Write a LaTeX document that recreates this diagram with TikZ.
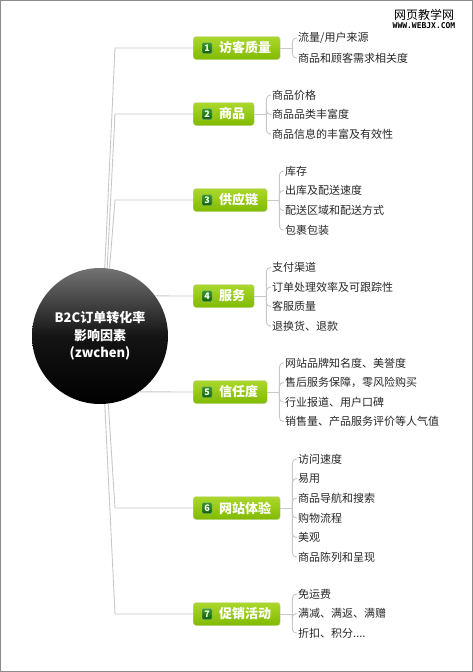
\documentclass[tikz,border=0pt]{standalone}
\usepackage{fontspec}
\setmainfont{Noto Sans CJK SC}
\newfontfamily\wmfont{DejaVu Sans Mono}
\usepackage{tikz}
\usetikzlibrary{positioning}

\definecolor{limetop}{RGB}{172,216,44}
\definecolor{limebot}{RGB}{128,186,0}
\definecolor{limeline}{RGB}{196,214,168}
\definecolor{badgetop}{RGB}{56,152,40}
\definecolor{badgebot}{RGB}{14,98,14}
\definecolor{linkgray}{RGB}{200,200,200}
\definecolor{leafink}{RGB}{40,40,40}

\begin{document}
\begin{tikzpicture}[
    x=1pt, y=-1pt,
    hub/.style={circle, minimum size=136pt, inner sep=0pt, top color=black!55, bottom color=black, middle color=black!92, text=white, align=center, font=\fontsize{13pt}{17.5pt}\selectfont\bfseries},
    topic/.style={anchor=west, rounded corners=3pt, draw=limeline, top color=limetop, bottom color=limebot, text=white, minimum height=23pt, inner xsep=9pt, inner ysep=0pt, font=\fontsize{13pt}{15pt}\selectfont\bfseries},
    badge/.style={rounded corners=1pt, draw=badgebot!40, top color=badgetop, bottom color=badgebot, text=white, minimum width=10pt, minimum height=11pt, inner sep=0pt, font=\fontsize{9pt}{9pt}\selectfont\bfseries},
    leaf/.style={anchor=west, inner sep=1pt, text=leafink, font=\fontsize{11pt}{13pt}\selectfont},
    link/.style={draw=linkgray, line width=0.9pt},
    twig/.style={link, rounded corners=4pt}
]
\fill[white] (0,0) rectangle (473,672);
\useasboundingbox (0,0) rectangle (473,672);
\draw[gray!90, line width=1.2pt] (0.6,0.6) rectangle (472.4,671.4);

\node[font=\fontsize{12pt}{12pt}\selectfont, inner sep=1pt] (wm) at (424,15) {网页教学网};
\node[font=\wmfont\bfseries\fontsize{8pt}{8pt}\selectfont, inner sep=1pt, below=0pt of wm] (wmurl) {WWW.WEBJX.COM};

\node[hub] (hub) at (100,336) {B2C订单转化率\\影响因素\\(zwchen)};

\node[topic] (t1) at (193,48) {\hspace*{17pt}访客质量};
\node[topic] (t2) at (193,114) {\hspace*{17pt}商品};
\node[topic] (t3) at (193,200) {\hspace*{17pt}供应链};
\node[topic] (t4) at (193,296) {\hspace*{17pt}服务};
\node[topic] (t5) at (193,392) {\hspace*{17pt}信任度};
\node[topic] (t6) at (193,508) {\hspace*{17pt}网站体验};
\node[topic] (t7) at (193,614) {\hspace*{17pt}促销活动};

\node[badge] (n1) at ([xshift=14pt]t1.west) {1};
\node[badge] (n2) at ([xshift=14pt]t2.west) {2};
\node[badge] (n3) at ([xshift=14pt]t3.west) {3};
\node[badge] (n4) at ([xshift=14pt]t4.west) {4};
\node[badge] (n5) at ([xshift=14pt]t5.west) {5};
\node[badge] (n6) at ([xshift=14pt]t6.west) {6};
\node[badge] (n7) at ([xshift=14pt]t7.west) {7};

\coordinate (hb) at (115,336);
\draw[link] (hub.86) -- (hb |- t1.west) -- (t1.west);
\draw[link] (hub.84) -- (hb |- t2.west) -- (t2.west);
\draw[link] (hub.82) -- (hb |- t3.west) -- (t3.west);
\draw[link] (hub.36) -- (t4.west);
\draw[link] (hub.-55) -- (t5.west);
\draw[link] (hub.-83) -- (hb |- t6.west) -- (t6.west);
\draw[link] (hub.-86) -- (hb |- t7.west) -- (t7.west);

\node[leaf] (l1a) at (297,38) {流量/用户来源};
\node[leaf] (l1b) at (297,58) {商品和顾客需求相关度};

\node[leaf] (l2a) at (271,95) {商品价格};
\node[leaf] (l2b) at (271,114.5) {商品品类丰富度};
\node[leaf] (l2c) at (271,134) {商品信息的丰富及有效性};

\node[leaf] (l3a) at (284,171) {库存};
\node[leaf] (l3b) at (284,190.5) {出库及配送速度};
\node[leaf] (l3c) at (284,210.5) {配送区域和配送方式};
\node[leaf] (l3d) at (284,230) {包裹包装};

\node[leaf] (l4a) at (271,267.5) {支付渠道};
\node[leaf] (l4b) at (271,287) {订单处理效率及可跟踪性};
\node[leaf] (l4c) at (271,306.5) {客服质量};
\node[leaf] (l4d) at (271,326) {退换货、退款};

\node[leaf] (l5a) at (284,363) {网站品牌知名度、美誉度};
\node[leaf] (l5b) at (284,382.5) {售后服务保障，零风险购买};
\node[leaf] (l5c) at (284,402) {行业报道、用户口碑};
\node[leaf] (l5d) at (284,421.5) {销售量、产品服务评价等人气值};

\node[leaf] (l6a) at (297,459) {访问速度};
\node[leaf] (l6b) at (297,478.5) {易用};
\node[leaf] (l6c) at (297,498) {商品导航和搜索};
\node[leaf] (l6d) at (297,518) {购物流程};
\node[leaf] (l6e) at (297,537.5) {美观};
\node[leaf] (l6f) at (297,557) {商品陈列和呈现};

\node[leaf] (l7a) at (297,594) {免运费};
\node[leaf] (l7b) at (297,613.5) {满减、满返、满赠};
\node[leaf] (l7c) at (297,633) {折扣、积分....};

\coordinate (j1) at ([xshift=12pt]t1.east);
\coordinate (j2) at ([xshift=12pt]t2.east);
\coordinate (j3) at ([xshift=12pt]t3.east);
\coordinate (j4) at ([xshift=12pt]t4.east);
\coordinate (j5) at ([xshift=12pt]t5.east);
\coordinate (j6) at ([xshift=12pt]t6.east);
\coordinate (j7) at ([xshift=12pt]t7.east);

\draw[link] (t1.east) -- (j1);
\draw[twig] (j1) |- (l1a.west);
\draw[twig] (j1) |- (l1b.west);

\draw[link] (t2.east) -- (j2);
\draw[twig] (j2) |- (l2a.west);
\draw[twig] (j2) |- (l2b.west);
\draw[twig] (j2) |- (l2c.west);

\draw[link] (t3.east) -- (j3);
\draw[twig] (j3) |- (l3a.west);
\draw[twig] (j3) |- (l3b.west);
\draw[twig] (j3) |- (l3c.west);
\draw[twig] (j3) |- (l3d.west);

\draw[link] (t4.east) -- (j4);
\draw[twig] (j4) |- (l4a.west);
\draw[twig] (j4) |- (l4b.west);
\draw[twig] (j4) |- (l4c.west);
\draw[twig] (j4) |- (l4d.west);

\draw[link] (t5.east) -- (j5);
\draw[twig] (j5) |- (l5a.west);
\draw[twig] (j5) |- (l5b.west);
\draw[twig] (j5) |- (l5c.west);
\draw[twig] (j5) |- (l5d.west);

\draw[link] (t6.east) -- (j6);
\draw[twig] (j6) |- (l6a.west);
\draw[twig] (j6) |- (l6b.west);
\draw[twig] (j6) |- (l6c.west);
\draw[twig] (j6) |- (l6d.west);
\draw[twig] (j6) |- (l6e.west);
\draw[twig] (j6) |- (l6f.west);

\draw[link] (t7.east) -- (j7);
\draw[twig] (j7) |- (l7a.west);
\draw[twig] (j7) |- (l7b.west);
\draw[twig] (j7) |- (l7c.west);
\end{tikzpicture}
\end{document}
